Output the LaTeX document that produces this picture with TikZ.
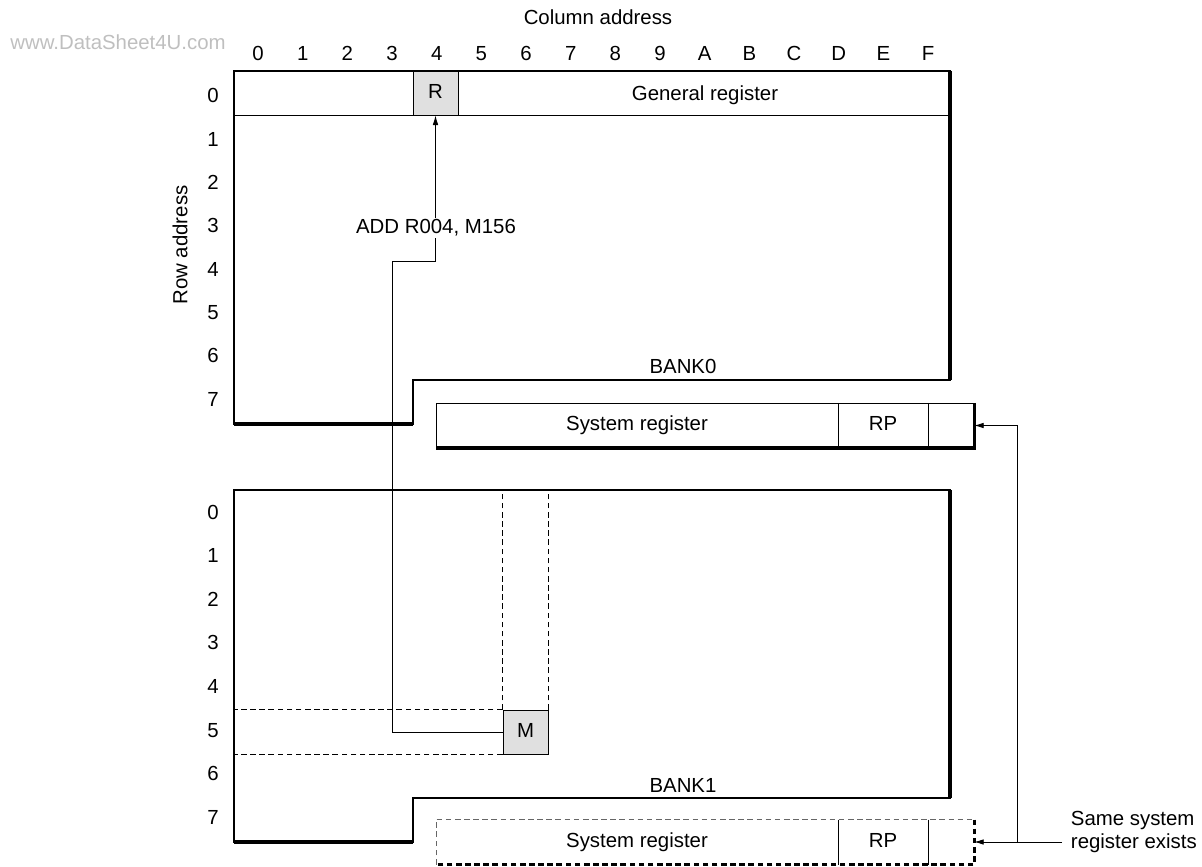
\documentclass[tikz,border=0pt]{standalone}
\usepackage{fontspec}
\setmainfont{Liberation Sans}
\usetikzlibrary{arrows.meta,positioning,calc}

\tikzset{
  heavy/.style={line width=2.2pt},
  bankline/.style={line width=1pt},
  thinline/.style={line width=0.6pt},
  shaded/.style={draw,thinline,fill=black!12,minimum width=1.125cm,minimum height=1.1cm,inner sep=0pt,text height=1.38ex,text depth=0pt},
  cell/.style={minimum height=1.125cm,inner sep=0pt,outer sep=0pt,text height=1.38ex,text depth=0pt},
  dashline/.style={thinline,dash pattern=on 4pt off 2.5pt},
  link/.style={thinline,-{Latex[length=2.4mm,width=1.4mm]}},
}

\begin{document}
\begin{tikzpicture}[x=0.025cm,y=-0.025cm,font=\fontsize{14.5}{17}\selectfont]
\useasboundingbox (0,0) rectangle (1202,867);

% addresses
\node[text=black!25] (wm) at (118,42) {www.DataSheet4U.com};
\node (coladdr) at (598,17) {Column address};
\node[rotate=90] (rowaddr) at (180,245) {Row address};
\foreach \c [count=\i from 0] in {0,1,2,3,4,5,6,7,8,9,A,B,C,D,E,F}
  \node[anchor=base] (col\c) at (258+44.67*\i,61) {\c};
\foreach \r in {0,...,7} {
  \node[anchor=base] (rowa\r) at (213,103+43.3*\r) {\r};
  \node[anchor=base] (rowb\r) at (213,519+43.6*\r) {\r};
}

% BANK0
\draw[bankline] (234,71) -- (950,71) -- (950,380) -- (413,380) -- (413,424) -- (234,424) -- cycle;
\draw[heavy] (950,71) -- (950,380);
\draw[heavy] (234,424) -- (413,424);
\draw[thinline] (234,115) -- (950,115);
\node[shaded] (R) at (435.5,93) {R};
\node[cell] (genreg) at (705,95) {General register};
\node (bank0) at (683,366) {BANK0};

\node[cell,minimum width=10.05cm] (sys0) at (637,425.5) {System register};
\node[cell,minimum width=2.25cm,right=0pt of sys0] (rp0) {RP};
\node[cell,minimum width=1.15cm,right=0pt of rp0] (pad0) {};
\draw[thinline] (sys0.south west) -- (sys0.north west) -- (pad0.north east);
\draw[thinline] (rp0.north west) -- (rp0.south west) (pad0.north west) -- (pad0.south west);
\draw[heavy] (pad0.north east) -- (pad0.south east) -- (sys0.south west);

% BANK1
\coordinate (b1top) at (234,490);
\draw[bankline] (b1top) -- (950,490) -- (950,798) -- (413,798) -- (413,842) -- (234,842) -- cycle;
\draw[heavy] (950,490) -- (950,798);
\draw[heavy] (234,842) -- (413,842);
\node[shaded] (M) at (525.5,732) {M};
\draw[dashline] (M.north west) -- (M.north west |- b1top);
\draw[dashline] (M.north east) -- (M.north east |- b1top);
\draw[dashline] (M.north west) -- (M.north west -| b1top);
\draw[dashline] (M.south west) -- (M.south west -| b1top);
\node (bank1) at (683,785) {BANK1};

\node[cell,minimum width=10.05cm] (sys1) at (637,842) {System register};
\node[cell,minimum width=2.25cm,right=0pt of sys1] (rp1) {RP};
\node[cell,minimum width=1.15cm,right=0pt of rp1] (pad1) {};
\draw[dashline,black!60] (sys1.south west) -- (sys1.north west) -- (pad1.north east);
\draw[thinline] (rp1.north west) -- (rp1.south west) (pad1.north west) -- (pad1.south west);
\draw[heavy,dash pattern=on 4pt off 2.5pt] (pad1.north east) -- (pad1.south east) -- (sys1.south west);

% connectors
\coordinate (bend) at (392,261);
\draw[link] (M.west) -| (bend) -| (R.south);
\node[fill=white,inner sep=1pt] (instr) at (436,228) {ADD R004, M156};

\node[align=left,anchor=west] (note) at (1066,832) {Same system\\register exists};
\coordinate (noteend) at (1062,842);
\coordinate (split) at (1017,842);
\draw[link] (noteend) -- (pad1.east);
\draw[link] (split) |- (pad0.east);
\end{tikzpicture}
\end{document}
